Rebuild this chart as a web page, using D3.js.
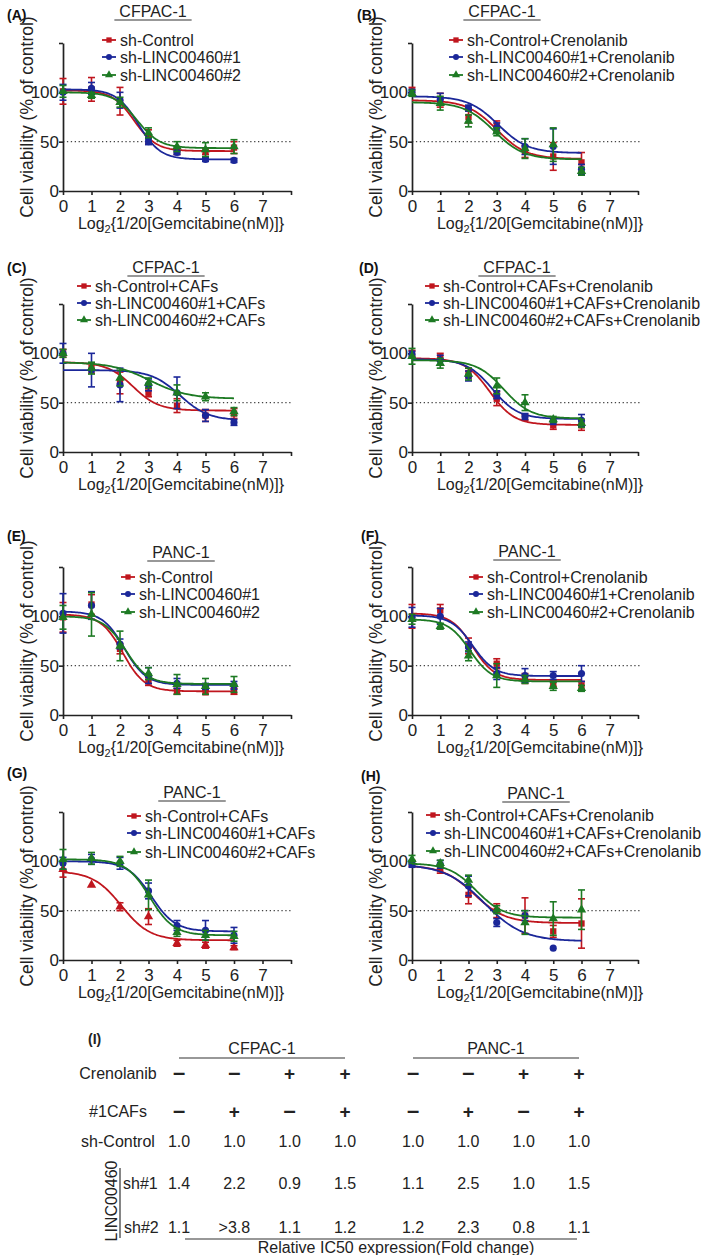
<!DOCTYPE html>
<html><head><meta charset="utf-8">
<script src="https://cdn.jsdelivr.net/npm/d3@7"></script>
<style>
body{margin:0;background:#fff;}
svg{display:block;font-family:"Liberation Sans",Arial,Helvetica,sans-serif;}
</style>
</head><body>
<svg id="chart" width="709" height="1255"></svg>
<script>
// ---------------- DATA ----------------
const doses = [0, 1, 2, 3, 4, 5, 6];
const xTickValues = [0, 1, 2, 3, 4, 5, 6, 7, 8];
const yTickValues = [0, 50, 100, 150];
const refLine = 50;
const seriesColors = ["#c0161e", "#1b2799", "#1d7a23"];
const seriesSymbols = ["square", "circle", "triangle"];

const panelTitles = ["CFPAC-1", "CFPAC-1", "CFPAC-1", "CFPAC-1", "PANC-1", "PANC-1", "PANC-1", "PANC-1"];
const panelLetters = ["(A)", "(B)", "(C)", "(D)", "(E)", "(F)", "(G)", "(H)"];
const legendA = ["sh-Control", "sh-LINC00460#1", "sh-LINC00460#2"];
const legendB = ["sh-Control+Crenolanib", "sh-LINC00460#1+Crenolanib", "sh-LINC00460#2+Crenolanib"];
const legendC = ["sh-Control+CAFs", "sh-LINC00460#1+CAFs", "sh-LINC00460#2+CAFs"];
const legendD = ["sh-Control+CAFs+Crenolanib", "sh-LINC00460#1+CAFs+Crenolanib", "sh-LINC00460#2+CAFs+Crenolanib"];

// means per series [red, blue, green] at doses 0..6
const meansA = [[101, 103, 91, 55, 41, 40, 44], [100, 104, 92, 50, 39, 32, 31], [101, 97, 90, 59, 45, 42, 45]];
const errsA  = [[13, 12, 14, 7, 4, 3, 6], [8, 6, 8, 3, 2, 2, 2], [6, 3, 5, 5, 5, 7, 7]];
const fitsA  = [[102, 40.5, 2.5, 2.6], [103, 32, 2.65, 2.6], [100, 43.5, 2.6, 2.5]];

const meansB = [[101, 92, 75, 66, 40, 35, 29], [100, 93, 84, 64, 45, 45, 22], [99, 89, 71, 60, 43, 47, 20]];
const errsB  = [[4, 7, 6, 5, 6, 14, 10], [3, 6, 3, 5, 8, 18, 5], [3, 7, 6, 4, 10, 17, 4]];
const fitsB  = [[92, 32.5, 3.0, 1.9], [96, 38.5, 3.05, 1.9], [90, 32, 2.9, 1.9]];

const meansC = [[100, 85, 70, 60, 47, 37, 39], [100, 83, 68, 68, 60, 37, 30], [100, 85, 75, 70, 60, 56, 41]];
const errsC  = [[4, 5, 11, 4, 7, 6, 5], [10, 17, 17, 6, 16, 6, 3], [4, 6, 8, 5, 8, 4, 4]];
const fitsC  = [[91, 42, 2.45, 2.2], [83, 32, 4.1, 2.0], [91, 54, 3.05, 1.5]];

const meansD = [[100, 96, 80, 54, 35, 27, 27], [99, 93, 77, 58, 36, 31, 32], [97, 90, 79, 67, 50, 33, 29]];
const errsD  = [[3, 4, 5, 7, 3, 4, 5], [3, 5, 5, 4, 3, 3, 6], [8, 5, 6, 8, 8, 3, 4]];
const fitsD  = [[95, 27.5, 2.75, 2.3], [94, 33.5, 2.85, 2.2], [93, 34, 3.25, 2.1]];

const meansE = [[99, 112, 67, 34, 24, 23, 24], [103, 111, 72, 40, 32, 29, 30], [99, 102, 70, 42, 31, 29, 31]];
const errsE  = [[15, 10, 5, 4, 3, 2, 3], [20, 14, 5, 8, 5, 3, 4], [12, 22, 15, 6, 10, 8, 8]];
const fitsE  = [[102, 24, 2.1, 2.6], [105, 30.5, 2.15, 2.6], [100, 31.5, 2.2, 2.6]];

const meansF = [[100, 106, 70, 52, 37, 32, 30], [99, 100, 69, 42, 40, 40, 42], [97, 90, 60, 40, 36, 29, 27]];
const errsF  = [[12, 6, 8, 5, 5, 3, 4], [10, 8, 5, 6, 7, 4, 8], [5, 3, 5, 12, 4, 4, 3]];
const fitsF  = [[103, 35.5, 2.15, 2.6], [101, 39.5, 2.15, 2.6], [97, 34, 2.05, 2.6]];

const meansG = [[92, 76, 54, 44, 17, 15, 12.5], [98, 102, 98, 70, 35, 30, 25], [102, 103, 100, 66, 28, 25, 24]];
const errsG  = [[8, 0, 4, 8, 3, 3, 2], [6, 5, 6, 8, 5, 10, 8], [10, 6, 5, 15, 4, 5, 5]];
const fitsG  = [[90, 20, 2.05, 2.0], [100, 29, 3.1, 2.4], [102, 25, 3.05, 2.4]];

const meansH = [[98, 92, 66, 50, 45, 29, 37], [97, 97, 75, 38, 45, 12, null], [102, 98, 81, 51, 38, 42, 51]];
const errsH  = [[3, 4, 9, 7, 18, 6, 25], [3, 4, 10, 4, 5, 0, 0], [4, 3, 5, 4, 12, 17, 20]];
const fitsH  = [[96, 37.5, 2.2, 1.8], [97, 19, 2.55, 1.45], [98, 43, 2.27, 2.06]];

// table (I)
const tableGroups = ["CFPAC-1", "PANC-1"];
const tableRowLabels = ["Crenolanib", "#1CAFs", "sh-Control"];
const crenolanibRow = ["-", "-", "+", "+", "-", "-", "+", "+"];
const cafsRow = ["-", "+", "-", "+", "-", "+", "-", "+"];
const shControlRow = ["1.0", "1.0", "1.0", "1.0", "1.0", "1.0", "1.0", "1.0"];
const sh1Row = ["1.4", "2.2", "0.9", "1.5", "1.1", "2.5", "1.0", "1.5"];
const sh2Row = ["1.1", ">3.8", "1.1", "1.2", "1.2", "2.3", "0.8", "1.1"];

// ---------------- LAYOUT ----------------
const svg = d3.select("#chart");
const FONT = '"Liberation Sans",Arial,Helvetica,sans-serif';
const colAxisX = [63, 412];
const colWidth = [228, 226];
const rowY0 = [191, 452, 715, 960];
const plotH = 148;
const xTitleCX = [181, 540];

const panels = [
  {means: meansA, errs: errsA, fits: fitsA, legend: legendA, col: 0, row: 0, tdx: 90,  tdy: -174, lx: 57, ly: [-151, -134, -116], lab: [7, 20]},
  {means: meansB, errs: errsB, fits: fitsB, legend: legendB, col: 1, row: 0, tdx: 90,  tdy: -174, lx: 55, ly: [-151, -134, -116], lab: [357, 20]},
  {means: meansC, errs: errsC, fits: fitsC, legend: legendC, col: 0, row: 1, tdx: 103, tdy: -179, lx: 32, ly: [-166, -149, -132], lab: [7, 273]},
  {means: meansD, errs: errsD, fits: fitsD, legend: legendD, col: 1, row: 1, tdx: 105, tdy: -179, lx: 31, ly: [-166, -149, -132], lab: [359, 273]},
  {means: meansE, errs: errsE, fits: fitsE, legend: legendA, col: 0, row: 2, tdx: 118, tdy: -157, lx: 76, ly: [-138, -121, -103], lab: [7, 541]},
  {means: meansF, errs: errsF, fits: fitsF, legend: legendB, col: 1, row: 2, tdx: 115, tdy: -158, lx: 75, ly: [-138, -121, -103], lab: [361, 541]},
  {means: meansG, errs: errsG, fits: fitsG, legend: legendC, col: 0, row: 3, tdx: 129, tdy: -162, lx: 82, ly: [-144, -127, -108], lab: [7, 778], pointSymbols: ["triangle", "circle", "triangle"]},
  {means: meansH, errs: errsH, fits: fitsH, legend: legendD, col: 1, row: 3, tdx: 124, tdy: -161, lx: 32, ly: [-145, -127, -109], lab: [361, 781]}
];

const symbolType = {square: d3.symbolSquare, circle: d3.symbolCircle, triangle: d3.symbolTriangle};
const symbolSize = {square: 40, circle: 40, triangle: 38};

function logistic(p, x) {
  const [top, bottom, x0, k] = p;
  return bottom + (top - bottom) / (1 + Math.exp(k * (x - x0)));
}

panels.forEach((p, i) => {
  const ax = colAxisX[p.col];
  const y0 = rowY0[p.row];
  const x = d3.scaleLinear().domain([0, 8]).range([ax, ax + colWidth[p.col]]);
  const y = d3.scaleLinear().domain([0, 150]).range([y0, y0 - plotH]);
  const g = svg.append("g");

  // panel letter
  g.append("text").attr("x", p.lab[0]).attr("y", p.lab[1])
    .attr("font-size", 14).attr("font-weight", "bold").attr("fill", "#111").text(panelLetters[i]);

  // title + underline
  const tcx = ax + p.tdx, tby = y0 + p.tdy;
  const tt = g.append("text").attr("x", tcx).attr("y", tby).attr("text-anchor", "middle")
    .attr("font-size", 16).attr("fill", "#222").text(panelTitles[i]);
  const tw = tt.node().getComputedTextLength() + 10;
  g.append("line").attr("x1", tcx - tw / 2).attr("x2", tcx + tw / 2)
    .attr("y1", tby + 3).attr("y2", tby + 3).attr("stroke", "#333").attr("stroke-width", 1.2);

  // reference dotted line
  g.append("line").attr("x1", x(0)).attr("x2", x(8) + 2)
    .attr("y1", y(refLine)).attr("y2", y(refLine))
    .attr("stroke", "#444").attr("stroke-width", 1.3).attr("stroke-dasharray", "1.3,2.6");

  // axes
  const xAxis = d3.axisBottom(x).tickValues(xTickValues).tickFormat(d => d === 8 ? "" : d)
    .tickSize(4).tickSizeOuter(0).tickPadding(5);
  const yAxis = d3.axisLeft(y).tickValues(yTickValues).tickFormat(d => d === 150 ? "" : d)
    .tickSize(4).tickSizeOuter(0).tickPadding(0);
  const gx = g.append("g").attr("transform", `translate(0,${y0})`).call(xAxis);
  const gy = g.append("g").attr("transform", `translate(${ax},0)`).call(yAxis);
  [gx, gy].forEach(a => {
    a.select(".domain").attr("stroke", "#222").attr("stroke-width", 1.7);
    a.selectAll(".tick line").attr("stroke", "#222").attr("stroke-width", 1.6);
    a.selectAll("text").attr("font-size", 17).attr("font-family", FONT).attr("fill", "#222");
  });

  // axis titles
  const xt = g.append("text").attr("x", xTitleCX[p.col]).attr("y", y0 + 38)
    .attr("text-anchor", "middle").attr("font-size", 16).attr("fill", "#222");
  xt.append("tspan").text("Log");
  xt.append("tspan").attr("font-size", 11).attr("dy", 4).text("2");
  xt.append("tspan").attr("dy", -4).text("{1/20[Gemcitabine(nM)]}");

  g.append("text").attr("transform", `translate(${ax - 30.5},${y0 - plotH / 2}) rotate(-90)`)
    .attr("text-anchor", "middle").attr("font-size", 17.5).attr("fill", "#222")
    .text("Cell viability (% of control)");

  // series
  const fitXs = d3.range(0, 6.001, 0.05);
  const syms = p.pointSymbols || seriesSymbols;
  p.means.forEach((ms, s) => {
    const col = seriesColors[s];
    const pts = doses.map((d, j) => ({d, m: ms[j], e: p.errs[s][j]})).filter(o => o.m !== null);
    // fitted curve
    g.append("path").datum(fitXs)
      .attr("d", d3.line().x(v => x(v)).y(v => y(logistic(p.fits[s], v))))
      .attr("fill", "none").attr("stroke", col).attr("stroke-width", 1.8);
    // error bars
    const eb = g.append("g").attr("stroke", col).attr("stroke-width", 1.6);
    pts.filter(o => o.e > 0).forEach(o => {
      eb.append("line").attr("x1", x(o.d)).attr("x2", x(o.d)).attr("y1", y(o.m - o.e)).attr("y2", y(o.m + o.e));
      [o.m - o.e, o.m + o.e].forEach(v => eb.append("line")
        .attr("x1", x(o.d) - 3.5).attr("x2", x(o.d) + 3.5).attr("y1", y(v)).attr("y2", y(v)));
    });
    // markers
    const sym = syms[s];
    g.append("g").selectAll("path").data(pts).join("path")
      .attr("transform", o => `translate(${x(o.d)},${y(o.m)})`)
      .attr("d", d3.symbol().type(symbolType[sym]).size(symbolSize[sym]))
      .attr("fill", col);
  });

  // legend
  p.legend.forEach((lbl, s) => {
    const ly = y0 + p.ly[s];
    const lx = ax + p.lx;
    const col = seriesColors[s];
    g.append("line").attr("x1", lx - 18).attr("x2", lx - 4).attr("y1", ly).attr("y2", ly)
      .attr("stroke", col).attr("stroke-width", 1.8);
    g.append("path").attr("transform", `translate(${lx - 11},${ly})`)
      .attr("d", d3.symbol().type(symbolType[seriesSymbols[s]]).size(28)).attr("fill", col);
    g.append("text").attr("x", lx).attr("y", ly).attr("dy", "0.36em")
      .attr("font-size", 16).attr("fill", "#222").text(lbl);
  });
});

// ---------------- TABLE (I) ----------------
const tg = svg.append("g").attr("font-size", 16).attr("fill", "#222");
const groupScales = [
  d3.scalePoint().domain([0, 1, 2, 3]).range([179, 345]),
  d3.scalePoint().domain([4, 5, 6, 7]).range([413, 579])
];
const colX = j => (j < 4 ? groupScales[0](j) : groupScales[1](j));
const labelCX = 118;
const rowYs = {group: 1054, cren: 1073, cafs: 1111, ctrl: 1141, sh1: 1183, sh2: 1227};

tg.append("text").attr("x", 88).attr("y", 1044).attr("font-size", 14).attr("font-weight", "bold").text("(I)");

tableGroups.forEach((gname, gi) => {
  const r = groupScales[gi].range();
  const cx = (r[0] + r[1]) / 2;
  tg.append("text").attr("x", cx).attr("y", rowYs.group).attr("text-anchor", "middle").text(gname);
  tg.append("line").attr("x1", r[0]).attr("x2", r[1]).attr("y1", rowYs.group + 4).attr("y2", rowYs.group + 4)
    .attr("stroke", "#333").attr("stroke-width", 1.2);
});

[[tableRowLabels[0], rowYs.cren], [tableRowLabels[1], rowYs.cafs], [tableRowLabels[2], rowYs.ctrl]].forEach(([t, yy]) => {
  tg.append("text").attr("x", labelCX).attr("y", yy).attr("dy", "0.36em").attr("text-anchor", "middle").text(t);
});

function signRow(row, yy) {
  row.forEach((v, j) => {
    if (v === "+") {
      tg.append("text").attr("x", colX(j)).attr("y", yy).attr("dy", "0.36em").attr("text-anchor", "middle")
        .attr("font-size", 19).attr("font-weight", "bold").text("+");
    } else {
      tg.append("text").attr("x", colX(j)).attr("y", yy).attr("dy", "0.3em").attr("text-anchor", "middle")
        .attr("font-size", 22).attr("font-weight", "bold").text("\u2013");
    }
  });
}
signRow(crenolanibRow, rowYs.cren);
signRow(cafsRow, rowYs.cafs);

function valueRow(row, yy) {
  row.forEach((v, j) => {
    tg.append("text").attr("x", colX(j)).attr("y", yy).attr("dy", "0.36em").attr("text-anchor", "middle").text(v);
  });
}
valueRow(shControlRow, rowYs.ctrl);
valueRow(sh1Row, rowYs.sh1);
valueRow(sh2Row, rowYs.sh2);

tg.append("text").attr("x", 123).attr("y", rowYs.sh1).attr("dy", "0.36em").text("sh#1");
tg.append("text").attr("x", 124).attr("y", rowYs.sh2).attr("dy", "0.36em").text("sh#2");
tg.append("text").attr("transform", "translate(117,1201) rotate(-90)").attr("text-anchor", "middle").text("LINC00460");
tg.append("line").attr("x1", 120).attr("x2", 120).attr("y1", 1168).attr("y2", 1238).attr("stroke", "#333").attr("stroke-width", 1.2);

tg.append("line").attr("x1", 185).attr("x2", 577).attr("y1", 1239).attr("y2", 1239).attr("stroke", "#333").attr("stroke-width", 1.2);
tg.append("text").attr("x", 396).attr("y", 1253).attr("text-anchor", "middle").text("Relative IC50 expression(Fold change)");
</script>
</body></html>
